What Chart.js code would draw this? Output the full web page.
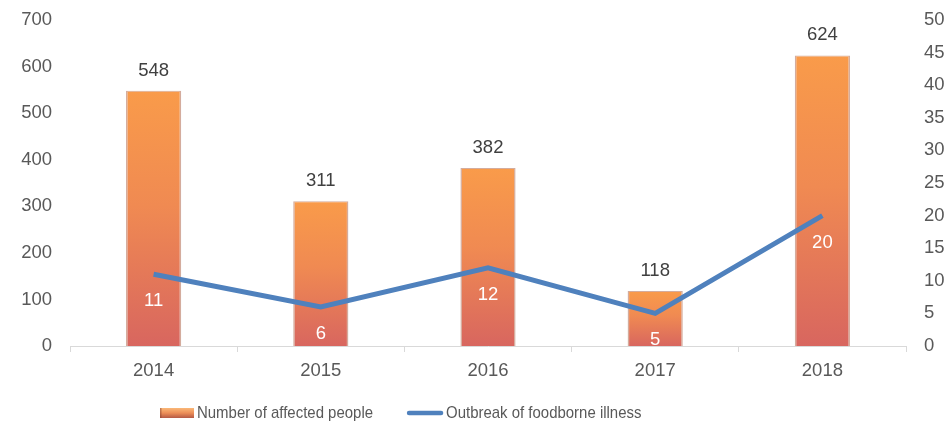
<!DOCTYPE html>
<html>
<head>
<meta charset="utf-8">
<script src="https://cdn.jsdelivr.net/npm/chart.js@4"></script>
<style>
html,body{margin:0;padding:0;background:#fff;}
#wrap{width:950px;height:425px;}
</style>
</head>
<body>
<div id="wrap"><canvas id="c" width="950" height="425"></canvas></div>
<script>
const categories = ['2014', '2015', '2016', '2017', '2018'];
const affectedPeople = [548, 311, 382, 118, 624];
const outbreaks = [11, 6, 12, 5, 20];
const leftTicks = [0, 100, 200, 300, 400, 500, 600, 700];
const rightTicks = [0, 5, 10, 15, 20, 25, 30, 35, 40, 45, 50];
const seriesNames = ['Number of affected people', 'Outbreak of foodborne illness'];

const FONT = '"Liberation Sans", Arial, sans-serif';

function barGradient(ctx) {
  const chart = ctx.chart;
  const {chartArea} = chart;
  if (!chartArea || ctx.type !== 'data') return '#F79646';
  const y = chart.scales.y;
  const top = y.getPixelForValue(ctx.raw);
  const bottom = y.getPixelForValue(0);
  const g = chart.ctx.createLinearGradient(0, top, 0, bottom);
  g.addColorStop(0, '#F99B4A');
  g.addColorStop(0.45, '#F08A52');
  g.addColorStop(1, '#D8665F');
  return g;
}

function drawBarSwatch(c, x, y, w, h) {
  const g = c.createLinearGradient(0, y, 0, y + h);
  g.addColorStop(0, '#FAB878');
  g.addColorStop(0.5, '#EC8E58');
  g.addColorStop(1, '#B55A45');
  c.fillStyle = g;
  c.fillRect(x, y, w, h);
  c.fillStyle = 'rgba(140,70,50,0.5)';
  c.fillRect(x, y, 1.5, h);
}
function drawLineSwatch(c, x, y, w) {
  c.strokeStyle = '#4F81BD';
  c.lineWidth = 4.5;
  c.lineCap = 'round';
  c.beginPath(); c.moveTo(x + 2, y); c.lineTo(x + w - 2, y); c.stroke();
}

const labelPlugin = {
  id: 'valueLabels',
  afterDatasetsDraw(chart) {
    const ctx = chart.ctx;
    ctx.save();
    ctx.font = '18.5px ' + FONT;
    ctx.textAlign = 'center';
    ctx.textBaseline = 'middle';
    const barMeta = chart.getDatasetMeta(0);
    barMeta.data.forEach((el, i) => {
      ctx.fillStyle = '#404040';
      ctx.fillText(String(affectedPeople[i]), el.x, el.y - 20);
    });
    const lineMeta = chart.getDatasetMeta(1);
    lineMeta.data.forEach((el, i) => {
      ctx.fillStyle = '#FFFFFF';
      ctx.fillText(String(outbreaks[i]), el.x, el.y + 27);
    });
    ctx.restore();
  }
};

const legendPlugin = {
  id: 'customLegend',
  afterDraw(chart) {
    const ctx = chart.ctx;
    const sx = 0.88;
    ctx.save();
    ctx.font = '17px ' + FONT;
    ctx.textBaseline = 'middle';
    ctx.textAlign = 'left';
    const cy = 413;
    let x = 160;
    drawBarSwatch(ctx, x, cy - 5, 34, 10);
    x += 37;
    const drawText = (t, tx) => {
      ctx.save();
      ctx.translate(tx, cy);
      ctx.scale(sx, 1);
      ctx.fillStyle = '#595959';
      ctx.fillText(t, 0, 0);
      ctx.restore();
      return ctx.measureText(t).width * sx;
    };
    x += drawText(seriesNames[0], x) + 34;
    drawLineSwatch(ctx, x, cy, 36);
    x += 39;
    drawText(seriesNames[1], x);
    ctx.restore();
  }
};

function fitVertical(width) {
  return (axis) => {
    axis.width = width;
    axis.paddingTop = 0;
    axis.paddingBottom = 0;
  };
}

const ctx = document.getElementById('c').getContext('2d');
new Chart(ctx, {
  data: {
    labels: categories,
    datasets: [
      {
        type: 'bar',
        label: seriesNames[0],
        data: affectedPeople,
        yAxisID: 'y',
        backgroundColor: barGradient,
        borderColor: 'rgba(170,90,60,0.5)',
        borderWidth: {left: 1.5, right: 1.5, top: 1, bottom: 0},
        barPercentage: 0.33,
        categoryPercentage: 1.0,
        order: 2
      },
      {
        type: 'line',
        label: seriesNames[1],
        data: outbreaks,
        yAxisID: 'y1',
        borderColor: '#4F81BD',
        backgroundColor: '#4F81BD',
        borderWidth: 5,
        pointRadius: 0,
        tension: 0,
        order: 1
      }
    ]
  },
  options: {
    responsive: false,
    animation: false,
    layout: {padding: {left: 0, right: 0, top: 20, bottom: 35}},
    plugins: {
      legend: {display: false},
      tooltip: {enabled: false}
    },
    scales: {
      x: {
        afterFit: (axis) => { axis.height = 44; axis.paddingLeft = 0; axis.paddingRight = 0; },
        grid: {display: true, drawOnChartArea: false, drawTicks: true, tickLength: 6, color: '#D9D9D9', offset: true},
        border: {display: true, color: '#D9D9D9'},
        ticks: {color: '#595959', font: {family: FONT, size: 18.5}, padding: 8}
      },
      y: {
        position: 'left',
        min: 0, max: 700,
        afterBuildTicks: (axis) => { axis.ticks = leftTicks.map(v => ({value: v})); },
        afterFit: fitVertical(70),
        grid: {display: false, drawTicks: false},
        border: {display: false},
        ticks: {color: '#595959', font: {family: FONT, size: 18.5}, padding: 18}
      },
      y1: {
        position: 'right',
        min: 0, max: 50,
        afterBuildTicks: (axis) => { axis.ticks = rightTicks.map(v => ({value: v})); },
        afterFit: fitVertical(44),
        grid: {display: false, drawTicks: false},
        border: {display: false},
        ticks: {color: '#595959', font: {family: FONT, size: 18.5}, padding: 18}
      }
    }
  },
  plugins: [labelPlugin, legendPlugin]
});
</script>
</body>
</html>
